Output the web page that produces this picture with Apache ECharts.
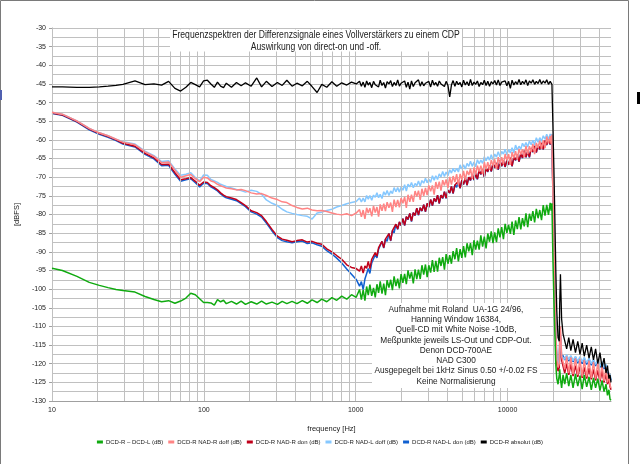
<!DOCTYPE html>
<html><head><meta charset="utf-8">
<script src="https://cdn.jsdelivr.net/npm/echarts@6/dist/echarts.min.js"></script>
<style>html,body{margin:0;padding:0;background:#fff}#c{width:640px;height:464px}</style>
</head><body><div id="c"></div>
<script>
// frequency bins (Hz)
const freqHz = [
 10, 11.7, 14.6, 17.6, 20.5, 23.4, 26.4, 29.3, 35.2, 41, 46.9, 52.7, 58.6, 64.5, 70.3, 76.2, 82, 87.9, 93.8, 99.6,
 105.5, 111.3, 117.2, 123, 128.9, 134.8, 140.6, 152, 164, 176, 188, 205, 223, 240, 258, 281, 305, 328, 352, 381, 410, 445, 480, 516, 557, 598, 645, 697, 750, 809, 873, 938, 1008,
 1060, 1090, 1120, 1150, 1180, 1210, 1240, 1275, 1310, 1345,
 1380, 1415, 1450, 1490, 1530, 1570, 1610, 1655, 1700, 1745,
 1790, 1840, 1890, 1940, 1990, 2045, 2100, 2155, 2210, 2270,
 2330, 2395, 2460, 2525, 2590, 2660, 2730, 2805, 2880, 2955,
 3030, 3115, 3200, 3285, 3370, 3460, 3550, 3645, 3740, 3840,
 3940, 4050, 4160, 4270, 4380, 4500, 4620, 4745, 4870, 5000,
 5130, 5270, 5410, 5555, 5700, 5855, 6010, 6170, 6330, 6500,
 6670, 6850, 7030, 7220, 7410, 7610, 7810, 8020, 8230, 8455,
 8680, 8915, 9150, 9395, 9640, 9900, 10160, 10435, 10710, 11000,
 11290, 11595, 11900, 12220, 12540, 12880, 13220, 13575, 13930, 14305,
 14680, 15075, 15470, 15885, 16300, 16740, 17180, 17645, 18110, 18600,
 19090, 19350, 19600,
 19900, 20200, 20500, 20800, 21100, 21500, 21900, 22050, 22300, 22700, 23200, 23800, 24500, 25300, 26100, 27000, 28000, 29000, 30000, 31000, 32000, 33200, 34400, 35600, 36800, 38000, 39300, 40600, 41900, 43200, 44500, 45500, 46500, 47300, 48000
];
// DCD-R - DCD-L (dB)
const diffRL = [
 -94.4, -95.0, -96.6, -98.2, -99.0, -99.6, -100.1, -100.4, -100.8, -102.0, -102.8, -103.4, -103.1, -103.8, -103.2, -102.4, -101.1, -101.5, -102.6, -103.6,
 -103.6, -103.7, -104.3, -102.8, -103.4, -103.0, -103.9, -103.3, -104.0, -103.2, -104.1, -103.4, -104.0, -103.2, -104.0, -103.5, -104.1, -103.3, -103.9, -103.3, -103.9, -103.1, -103.8, -102.9, -103.6, -102.7, -103.4, -102.3, -103.0, -101.9, -102.7, -101.5, -102.2,
 -100.1, -102.8, -100.2, -103.1, -99.3, -101.6, -98.8, -101.8, -99.7, -102.2,
 -98.7, -101.0, -97.9, -101.2, -98.5, -101.6, -97.6, -99.6, -97.5, -100.3,
 -96.6, -99.2, -97.2, -99.8, -96.0, -98.3, -95.9, -98.7, -95.0, -97.2,
 -95.4, -98.5, -94.7, -97.3, -94.8, -97.3, -93.6, -96.1, -93.4, -96.8,
 -93.6, -95.6, -92.2, -95.4, -92.4, -95.3, -91.6, -93.8, -91.4, -94.8,
 -90.6, -93.2, -90.9, -93.2, -89.8, -92.0, -89.0, -92.6, -89.3, -91.6,
 -88.5, -91.5, -87.7, -89.9, -87.7, -90.9, -86.9, -89.4, -87.0, -89.4,
 -85.6, -88.6, -85.9, -89.1, -85.1, -87.3, -84.5, -87.7, -84.8, -87.4,
 -83.7, -86.1, -83.4, -86.6, -82.5, -84.9, -82.8, -85.2, -81.9, -85.5,
 -81.6, -83.9, -80.7, -84.0, -81.0, -83.2, -79.7, -83.4, -79.8, -81.7,
 -79.1, -82.1, -78.5, -81.0, -78.8, -81.5, -77.5, -80.3, -77.4, -80.1,
 -76.9, -79.0, -77.0,
 -92, -103, -112, -120.5, -124, -125.5, -123, -121.5, -124, -126.5, -123, -125.5, -122.5, -126, -123, -126.5, -122.8, -126, -123.2, -126.8, -123, -126.2, -123.5, -127, -123.8, -126.5, -124, -127.2, -124.5, -127.5, -125.5, -128.5, -127, -129.5, -129.8
];
// DCD-R NAD-R doff (dB)
const nadRdoff = [
 -52.6, -53.1, -54.9, -56.9, -58.1, -58.9, -59.8, -60.6, -61.3, -63.2, -64.4, -66.1, -65.9, -68.1, -70.0, -69.6, -69.3, -70.4, -71.2, -70.0,
 -70.2, -71.0, -71.3, -71.9, -72.3, -72.6, -72.9, -73.1, -73.4, -73.3, -73.6, -74.2, -74.5, -74.4, -74.9, -75.6, -76.0, -76.6, -76.8, -77.6, -78.1, -78.5, -78.3, -78.8, -79.0, -78.9, -79.2, -79.6, -79.9, -80.1, -79.8, -80.3, -79.6,
 -78.7, -80.6, -78.8, -81.2, -78.2, -79.6, -78.3, -80.5, -77.7, -79.5,
 -78.0, -80.6, -77.3, -79.0, -77.1, -79.1, -76.7, -78.2, -76.8, -79.3,
 -76.0, -78.0, -76.1, -78.1, -75.6, -77.0, -75.3, -78.2, -74.7, -76.6,
 -74.7, -76.6, -73.7, -75.2, -73.6, -76.1, -73.1, -75.0, -72.9, -74.8,
 -72.2, -73.8, -72.2, -74.7, -71.3, -73.1, -71.2, -73.6, -70.8, -72.2,
 -70.6, -72.9, -69.9, -72.0, -69.7, -71.3, -69.2, -72.1, -69.1, -70.7,
 -68.3, -70.8, -68.3, -69.4, -67.7, -70.4, -67.4, -69.3, -66.9, -68.5,
 -66.9, -69.2, -66.0, -67.9, -66.0, -68.0, -65.4, -66.9, -65.2, -67.9,
 -64.6, -66.5, -64.6, -66.5, -63.8, -65.5, -63.8, -66.7, -63.3, -64.9,
 -63.0, -65.2, -62.4, -63.9, -62.5, -64.7, -61.6, -63.8, -61.7, -63.2,
 -61.1, -63.8, -60.8, -62.1, -60.2, -62.4, -60.1, -62.2, -59.1, -60.9,
 -59.0, -61.0, -58.6,
 -74, -88, -101, -112, -119, -121, -120, -113, -110, -118, -117.5, -121.5, -118, -122.5, -118.3, -122.8, -118.6, -123, -118.8, -123.4, -119, -123.5, -119.2, -123.8, -119.5, -124, -119.8, -124.3, -120.2, -124.6, -121, -125, -122.5, -125.8, -126.5
];
// DCD-R NAD-R don (dB)
const nadRdon = [
 -52.8, -53.3, -55.1, -57.1, -58.3, -59.1, -60.0, -60.9, -61.7, -63.6, -64.8, -66.6, -66.5, -68.8, -70.7, -70.4, -70.1, -71.1, -72.2, -71.3,
 -71.4, -72.3, -72.8, -73.4, -74.2, -74.8, -75.2, -75.6, -76.0, -76.8, -77.6, -79.0, -79.5, -80.3, -81.9, -84.0, -85.8, -86.6, -86.9, -87.3, -87.0, -86.8, -87.4, -87.2, -87.7, -88.0, -89.2, -90.0, -91.0, -92.0, -93.5, -94.2, -94.5,
 -95.2, -93.8, -95.7, -93.8, -94.4, -92.6, -94.5, -92.0, -92.4, -90.2,
 -91.2, -88.9, -89.3, -87.2, -88.9, -86.6, -87.1, -85.1, -87.0, -84.3,
 -84.8, -82.6, -83.9, -82.0, -82.9, -81.1, -82.9, -80.6, -81.3, -79.7,
 -81.8, -79.5, -80.2, -78.3, -80.1, -78.2, -79.0, -77.4, -79.2, -77.0,
 -78.0, -76.0, -77.6, -75.7, -76.5, -74.8, -77.0, -74.8, -75.6, -73.9,
 -75.6, -73.5, -74.2, -72.5, -74.3, -72.1, -72.6, -71.1, -72.9, -70.8,
 -71.9, -70.2, -72.1, -70.0, -70.8, -69.2, -70.7, -69.0, -70.5, -68.1,
 -69.2, -67.9, -69.9, -67.6, -68.5, -66.8, -68.4, -66.3, -67.4, -66.2,
 -67.9, -65.5, -67.0, -65.6, -67.2, -65.5, -66.6, -64.8, -67.0, -64.7,
 -65.4, -64.0, -65.8, -63.7, -64.8, -62.9, -64.6, -63.0, -64.6, -62.2,
 -63.2, -61.6, -63.3, -61.4, -62.5, -60.8, -62.5, -60.2, -61.3, -59.6,
 -61.2, -59.5, -60.1,
 -75, -89, -102, -113, -120, -122, -121, -116, -113, -119, -119.5, -122.5, -120, -123, -120.2, -123.3, -120.5, -123.5, -120.8, -123.8, -121, -124, -121.2, -124.2, -121.5, -124.5, -121.8, -124.8, -122, -125, -122.8, -125.5, -124, -126.2, -127
];
// DCD-R NAD-L doff (dB)
const nadLdoff = [
 -52.6, -53.1, -54.9, -56.9, -58.1, -58.9, -59.8, -60.5, -61.1, -63.0, -64.2, -65.8, -65.6, -67.8, -69.5, -69.2, -68.8, -70.1, -71.0, -69.4,
 -69.5, -70.6, -71.0, -71.4, -71.9, -72.2, -72.5, -72.9, -73.3, -73.6, -74.0, -73.5, -73.8, -74.6, -76.1, -77.0, -77.6, -78.6, -79.3, -79.7, -80.0, -80.3, -80.5, -81.2, -79.6, -79.4, -78.9, -78.6, -78.0, -77.6, -77.1, -76.8, -76.5,
 -75.6, -76.6, -75.6, -76.6, -74.9, -75.9, -74.9, -76.2, -74.8, -75.4,
 -74.2, -75.5, -74.6, -75.7, -73.9, -74.8, -73.6, -74.9, -73.7, -74.4,
 -72.8, -73.9, -72.8, -74.0, -72.6, -73.5, -72.0, -73.7, -71.9, -72.6,
 -71.4, -72.8, -71.7, -72.3, -71.0, -72.4, -70.9, -71.6, -70.3, -71.5,
 -70.5, -71.4, -69.6, -70.8, -69.6, -70.6, -69.1, -69.9, -68.5, -69.8,
 -68.6, -69.6, -68.0, -68.9, -67.6, -68.6, -67.6, -68.6, -66.7, -67.8,
 -66.7, -67.8, -66.3, -67.1, -65.7, -67.1, -65.9, -67.2, -65.3, -66.4,
 -65.4, -66.3, -64.5, -65.6, -64.5, -65.4, -64.0, -65.3, -63.8, -64.6,
 -63.2, -64.5, -63.1, -63.8, -62.5, -64.0, -62.6, -63.5, -62.1, -63.5,
 -61.4, -62.7, -61.7, -62.5, -60.9, -61.8, -60.7, -61.9, -60.3, -61.3,
 -60.1, -61.3, -59.4, -60.6, -59.4, -60.4, -58.9, -59.8, -58.5, -59.9,
 -58.4, -59.4, -58.4,
 -73, -87, -100, -111, -118, -120, -119, -114, -112, -118, -117.5, -118.8, -117.6, -118.9, -117.8, -119.2, -118, -119.4, -118.1, -119.5, -118.3, -119.7, -118.5, -120, -118.8, -120.2, -119, -120.6, -119.5, -121, -120.2, -121.8, -121.5, -123, -124
];
// DCD-R NAD-L don (dB)
const nadLdon = [
 -52.9, -53.4, -55.2, -57.3, -58.5, -59.3, -60.2, -61.1, -61.9, -63.9, -65.1, -66.9, -66.8, -69.2, -71.1, -70.7, -70.4, -71.5, -72.6, -71.6,
 -71.7, -72.6, -73.1, -73.7, -74.5, -75.1, -75.5, -75.9, -76.3, -77.1, -77.9, -79.3, -79.9, -80.7, -82.3, -84.4, -86.2, -87.0, -87.3, -87.6, -87.3, -87.1, -87.8, -87.6, -88.1, -88.5, -89.7, -90.6, -91.7, -93.0, -94.6, -96.0, -97.4,
 -99.2, -98.0, -100.1, -97.3, -96.9, -94.5, -95.8, -93.0, -93.2, -90.8,
 -91.6, -89.3, -89.7, -87.2, -89.0, -86.6, -87.2, -85.1, -87.1, -84.3,
 -84.9, -82.6, -84.0, -82.0, -83.0, -81.1, -83.0, -80.6, -81.4, -79.7,
 -81.9, -79.5, -80.3, -78.3, -80.2, -78.2, -79.1, -77.4, -79.3, -77.0,
 -78.1, -76.0, -77.7, -75.7, -76.6, -74.8, -77.1, -74.8, -75.7, -73.9,
 -75.7, -73.5, -74.3, -72.5, -74.4, -72.1, -72.7, -71.1, -73.0, -70.8,
 -72.0, -70.2, -72.2, -70.0, -70.9, -69.2, -70.8, -69.0, -70.6, -68.1,
 -69.3, -67.9, -70.0, -67.6, -68.6, -66.8, -68.5, -66.3, -67.5, -66.2,
 -68.0, -65.5, -67.1, -65.6, -67.3, -65.5, -66.7, -64.8, -67.1, -64.7,
 -65.5, -64.0, -65.9, -63.7, -64.9, -62.9, -64.7, -63.0, -64.7, -62.2,
 -63.3, -61.6, -63.4, -61.4, -62.6, -60.8, -62.6, -60.2, -61.4, -59.6,
 -61.3, -59.5, -60.2,
 -74, -88, -101, -112, -119, -121, -120, -115, -112.5, -118.5, -117.8, -119.0, -117.9, -119.3, -118.0, -119.5, -118.2, -119.8, -118.4, -120, -118.6, -120.2, -118.8, -120.4, -119.1, -120.6, -119.3, -121, -119.8, -121.4, -120.6, -122.2, -122, -123.5, -124.5
];
// DCD-R absolut (dB)
const absolut = [
 -45.8, -45.8, -45.9, -45.9, -45.8, -45.6, -45.4, -45.1, -44.2, -45.2, -45.0, -45.3, -44.3, -46.2, -46.9, -45.9, -44.6, -45.2, -45.8, -44.2,
 -44.0, -45.0, -45.9, -44.5, -45.6, -46.0, -44.8, -45.9, -44.6, -45.5, -44.7, -45.6, -43.4, -45.8, -44.3, -45.7, -44.6, -45.4, -44.0, -45.6, -44.8, -45.5, -44.3, -45.7, -47.3, -45.1, -45.9, -44.4, -45.6, -44.7, -45.3, -44.5, -45.0,
 -44.3, -45.6, -44.5, -45.9, -44.2, -45.3, -44.6, -46.0, -44.3, -45.2,
 -44.7, -45.8, -44.0, -45.4, -44.6, -46.1, -44.4, -45.0, -44.1, -45.7,
 -44.6, -45.4, -43.9, -45.6, -44.8, -45.3, -44.2, -45.9, -44.5, -46.4,
 -44.2, -45.7, -44.7, -45.2, -43.9, -45.6, -44.4, -45.5, -44.8, -45.2,
 -44.3, -45.8, -44.0, -45.3, -44.6, -45.6, -44.2, -45.0, -44.5, -45.7,
 -44.3, -45.4, -48.5, -45.3, -44.1, -45.6, -44.3, -45.2, -44.6, -45.8,
 -44.0, -45.3, -44.4, -45.5, -43.8, -45.4, -44.5, -45.1, -44.2, -45.7,
 -44.6, -45.2, -44.0, -45.4, -44.3, -45.6, -44.4, -45.0, -44.1, -45.3,
 -43.9, -45.4, -44.5, -45.0, -44.2, -45.5, -44.3, -46.2, -44.0, -45.3,
 -44.4, -45.1, -43.8, -45.2, -44.3, -45.0, -43.9, -45.4, -44.2, -44.8,
 -43.9, -45.1, -44.3, -44.9, -43.8, -45.0, -44.2, -44.8, -43.9, -45.1,
 -44.3, -44.7, -45.1,
 -56.5, -68, -81.5, -95.5, -106, -113, -114, -104, -96, -108, -112, -112.5, -116, -113, -116.5, -113.5, -117, -114, -117.5, -114.5, -118, -115, -118.5, -115.5, -119, -116, -120, -117, -121, -118.5, -122.5, -120.5, -124, -123, -125
];
const seriesNames = ['DCD-R – DCD-L (dB)', 'DCD-R NAD-R doff (dB)', 'DCD-R NAD-R don (dB)', 'DCD-R NAD-L doff (dB)', 'DCD-R NAD-L don (dB)', 'DCD-R absolut (dB)'];
const xTickLabels = [10, 100, 1000, 10000];
const titleLines = ['Frequenzspektren der Differenzsignale eines Vollverstärkers zu einem CDP', 'Auswirkung von direct-on und -off.'];
const noteLines = ['Aufnahme mit Roland  UA-1G 24/96,', 'Hanning Window 16384,', 'Quell-CD mit White Noise -10dB,', 'Meßpunkte jeweils LS-Out und CDP-Out.', 'Denon DCD-700AE', 'NAD C300', 'Ausgepegelt bei 1kHz Sinus 0.50 +/-0.02 FS', 'Keine Normalisierung'];

const FONT = '"Liberation Sans",Arial,sans-serif';
const GRID = '#c0c0c0';
const pairs = v => freqHz.map((f, i) => [f, v[i]]);
const xGrid = [];
[10, 100, 1000, 10000].forEach(d => { for (let k = 1; k <= 9; k++) { if (k * d <= 48000) xGrid.push(k * d); } });

const chart = echarts.init(document.getElementById('c'), null, {renderer: 'canvas'});
const mk = (name, data, color, width, z) => ({
  name, type: 'line', data: pairs(data), showSymbol: false, symbol: 'none', z,
  lineStyle: {color, width}, itemStyle: {color}, animation: false
});
const lens = [diffRL, nadRdoff, nadRdon, nadLdoff, nadLdon, absolut].map(a => a.length);
const lensOk = lens.every(l => l === freqHz.length);
chart.setOption({
  animation: false,
  textStyle: {fontFamily: FONT},
  grid: {left: 52, top: 28, right: 29, bottom: 63},
  xAxis: {
    type: 'log', logBase: 10, min: 10, max: 48000,
    name: 'frequency [Hz]', nameLocation: 'middle', nameGap: 24,
    nameTextStyle: {fontSize: 7.5, color: '#222', fontFamily: FONT},
    axisLine: {show: true, lineStyle: {color: '#a0a0a0'}},
    axisTick: {show: false},
    axisLabel: {fontSize: 7, color: '#222', margin: 6, fontFamily: FONT,
      formatter: v => { const r = Math.round(v); return xTickLabels.indexOf(r) >= 0 ? String(r) : ''; }},
    splitLine: {show: false}
  },
  yAxis: {
    type: 'value', min: -130, max: -30, interval: 5,
    name: '[dBFS]', nameLocation: 'middle', nameGap: 31, nameRotate: 90,
    nameTextStyle: {fontSize: 7.5, color: '#222', fontFamily: FONT},
    axisLine: {show: true, lineStyle: {color: '#a0a0a0'}},
    axisTick: {show: true, length: 3, lineStyle: {color: '#a0a0a0'}},
    axisLabel: {fontSize: 7, color: '#222', margin: 6, fontFamily: FONT},
    splitLine: {show: true, lineStyle: {color: GRID, width: 1}},
    minorTick: {show: false, splitNumber: 2},
    minorSplitLine: {show: true, lineStyle: {color: GRID, width: 1}}
  },
  legend: {
    data: seriesNames, bottom: 14, left: 'center', icon: 'rect',
    itemWidth: 6, itemHeight: 3, itemGap: 5,
    textStyle: {fontSize: 6, color: '#222', fontFamily: FONT, padding: [0, 0, 0, -2]}
  },
  series: [
    {type: 'line', data: [], z: 0, silent: true,
      markLine: {silent: true, symbol: 'none', label: {show: false}, animation: false,
        lineStyle: {color: GRID, width: 1, type: 'solid'},
        data: xGrid.map(v => ({xAxis: v}))}},
    mk(seriesNames[4], nadLdon, '#1060d0', 1.5, 2),
    mk(seriesNames[2], nadRdon, '#c0001a', 1.5, 3),
    mk(seriesNames[3], nadLdoff, '#86c8ff', 1.5, 4),
    mk(seriesNames[1], nadRdoff, '#ff8484', 1.5, 5),
    mk(seriesNames[0], diffRL, '#10aa10', 1.5, 6),
    mk(seriesNames[5], absolut, '#000000', 1.3, 7)
  ],
  graphic: [
    {type: 'rect', z: 50, shape: {x: 0.5, y: 0.5, width: 628, height: 470}, style: {fill: null, stroke: '#7a7a7a', lineWidth: 1}},
    {type: 'rect', z: 50, shape: {x: 0, y: 90, width: 2, height: 10}, style: {fill: '#5060b0'}},
    {type: 'rect', z: 50, shape: {x: 637, y: 92, width: 3, height: 12}, style: {fill: '#000'}},
    {type: 'rect', z: 50, shape: {x: 170, y: 29.5, width: 292, height: 22}, style: {fill: '#fff'}},
    {type: 'text', z: 51, x: 316, y: 29, scaleX: 0.86, style: {text: titleLines.join('\n'), font: '10px ' + FONT, fill: '#222',
      textAlign: 'center', align: 'center', textVerticalAlign: 'top', verticalAlign: 'top', lineHeight: 12}},
    {type: 'rect', z: 50, shape: {x: 372, y: 303, width: 168, height: 85}, style: {fill: '#fff'}},
    {type: 'text', z: 51, x: 456, y: 304, scaleX: 0.92, style: {text: noteLines.join('\n'), font: '9px ' + FONT, fill: '#222',
      textAlign: 'center', align: 'center', textVerticalAlign: 'top', verticalAlign: 'top', lineHeight: 10.3}},
    lensOk ? {type: 'group'} :
      {type: 'text', z: 99, x: 60, y: 60, style: {text: 'LEN ' + freqHz.length + ' / ' + lens.join(','), font: '14px sans-serif', fill: 'red'}}
  ]
});
</script></body></html>
